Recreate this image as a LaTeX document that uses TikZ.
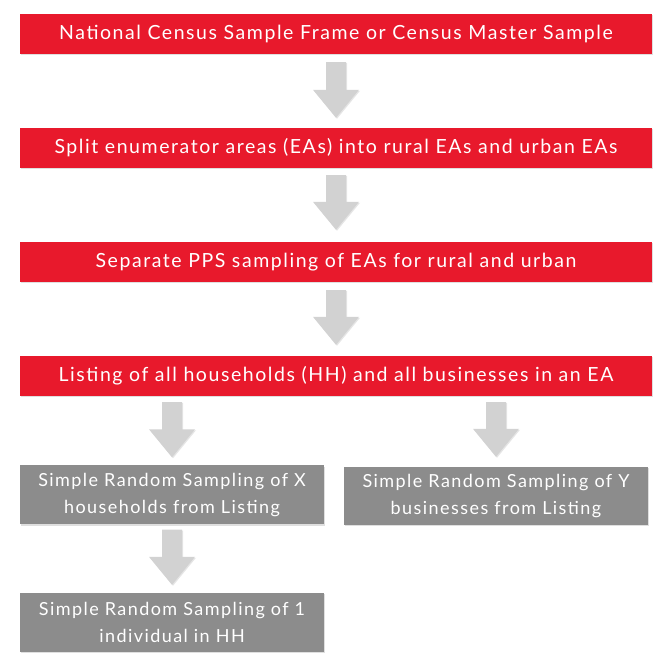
\documentclass[tikz,border=0pt]{standalone}
\usepackage{fontspec}
\setmainfont{Lato}[LetterSpace=8]
\usetikzlibrary{calc,shadows}
\definecolor{boxred}{RGB}{232,25,44}
\definecolor{boxgray}{RGB}{140,140,140}
\definecolor{arrowgray}{RGB}{210,210,210}
\tikzset{
  redbox/.style={fill=boxred, text=white, minimum width=632pt, minimum height=40pt, inner sep=0pt,
    font=\fontsize{19.5}{22}\selectfont, drop shadow={opacity=0.25, shadow xshift=1pt, shadow yshift=-1.5pt}},
  graybox/.style={fill=boxgray, text=white, minimum width=304pt, minimum height=59pt, inner sep=0pt,
    align=center, font=\fontsize{18}{27}\selectfont, drop shadow={opacity=0.25, shadow xshift=1pt, shadow yshift=-1.5pt}},
  flowarrow/.style={fill=arrowgray, drop shadow={opacity=0.2, shadow xshift=1pt, shadow yshift=-1pt}}
}
% #1 start point, #2 end point (tip)
\newcommand\flowarrow[2]{%
  \path let \p1=(#1), \p2=(#2) in [flowarrow]
    (\x1-10pt,\y1) -- (\x1+10pt,\y1) -- (\x1+10pt,\y2+28pt) -- (\x1+23pt,\y2+28pt)
    -- (\x1,\y2) -- (\x1-23pt,\y2+28pt) -- (\x1-10pt,\y2+28pt) -- cycle;}
\begin{document}
\begin{tikzpicture}[x=1pt,y=1pt]
\useasboundingbox[fill=white] (0,0) rectangle (656,660);
\node[redbox] (b1) at (336,626) {National Census Sample Frame or Census Master Sample};
\node[redbox] (b2) at (336,512) {Split enumerator areas (EAs) into rural EAs and urban EAs};
\node[redbox] (b3) at (336,398) {Separate PPS sampling of EAs for rural and urban};
\node[redbox] (b4) at (336,284) {Listing of all households (HH) and all businesses in an EA};
\node[graybox] (g1) at (172,165) {Simple Random Sampling of X\\households from Listing};
\node[graybox, minimum height=58pt] (g2) at (496,164) {Simple Random Sampling of Y\\businesses from Listing};
\node[graybox] (g3) at (172,37.5) {Simple Random Sampling of 1\\individual in HH};
\coordinate (a1s) at ($(b1.south)+(0,-8)$);
\coordinate (a1e) at ($(b2.north)+(0,10)$);
\coordinate (a2s) at ($(b2.south)+(0,-7)$);
\coordinate (a2e) at ($(b3.north)+(0,12)$);
\coordinate (a3s) at ($(b3.south)+(0,-8)$);
\coordinate (a3e) at ($(b4.north)+(0,11)$);
\coordinate (a4s) at ($(b4.south -| g1.north)+(0,-6)$);
\coordinate (a4e) at ($(g1.north)+(0,8)$);
\coordinate (a5s) at ($(b4.south -| g2.north)+(0,-6)$);
\coordinate (a5e) at ($(g2.north)+(0,10)$);
\coordinate (a6s) at ($(g1.south)+(0,-5)$);
\coordinate (a6e) at ($(g3.north)+(0,8)$);
\flowarrow{a1s}{a1e}
\flowarrow{a2s}{a2e}
\flowarrow{a3s}{a3e}
\flowarrow{a4s}{a4e}
\flowarrow{a5s}{a5e}
\flowarrow{a6s}{a6e}
\end{tikzpicture}
\end{document}
